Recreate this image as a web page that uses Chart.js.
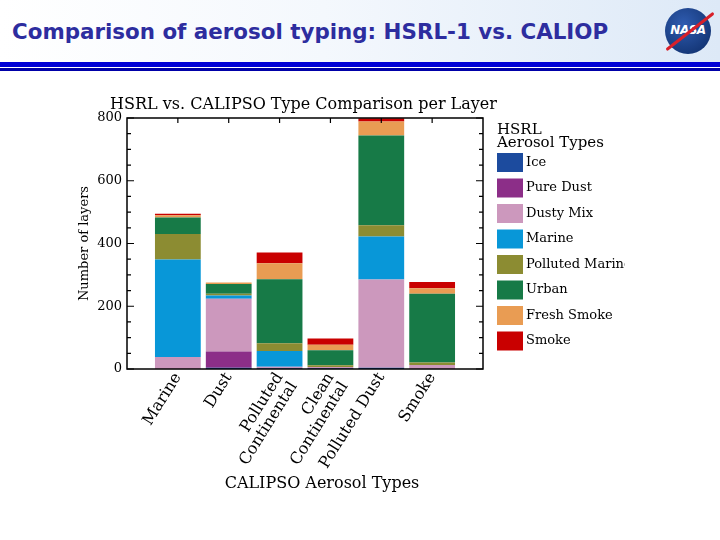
<!DOCTYPE html>
<html>
<head>
<meta charset="utf-8">
<script src="https://cdn.jsdelivr.net/npm/chart.js@4.4.1/dist/chart.umd.min.js"></script>
<style>
  html, body { margin: 0; padding: 0; background: #fff; }
  body { width: 720px; height: 540px; position: relative; overflow: hidden; }
  #header { position: absolute; left: 0; top: 0; width: 720px; height: 62px;
    background: linear-gradient(to right, #ffffff 0%, #f4f8fd 45%, #dde9f7 100%); }
  #header h1 { margin: 0; position: absolute; left: 12px; top: 19px; white-space: nowrap;
    font: bold 21.4px "DejaVu Sans", sans-serif; color: #2d2d9f; }
  #line1 { position: absolute; left: 0; top: 62px; width: 720px; height: 5px; background: #0000d6; }
  #line2 { position: absolute; left: 0; top: 68px; width: 720px; height: 3px; background: #0000a8; }
  #logo { position: absolute; left: 665px; top: 8px; width: 46px; height: 46px; border-radius: 50%;
    background: radial-gradient(circle at 40% 35%, #2f5cb0, #153778 75%); overflow: hidden; }
  #logo span { position: absolute; left: 0; top: 15px; width: 46px; text-align: center;
    font: bold italic 12px "DejaVu Sans", sans-serif; color: #fff; letter-spacing: -0.5px; }
  #swoosh { position: absolute; left: 660px; top: 30px; width: 60px; height: 3px; background: #d8202a;
    transform: rotate(-38deg); border-radius: 2px; }
  #wrap { position: absolute; left: 0; top: 75px; width: 720px; height: 465px; }
</style>
</head>
<body>
<div id="header"><h1>Comparison of aerosol typing: HSRL-1 vs. CALIOP</h1></div>
<div id="line1"></div>
<div id="line2"></div>
<div id="logo"><span>NASA</span></div>
<div id="swoosh"></div>
<div id="wrap"><canvas id="chart" width="720" height="465"></canvas></div>
<script>
const categories = ["Marine", "Dust", ["Polluted", "Continental"], ["Clean", "Continental"], "Polluted Dust", "Smoke"];

const typeNames = ["Ice", "Pure Dust", "Dusty Mix", "Marine", "Polluted Marine", "Urban", "Fresh Smoke", "Smoke"];
const typeColors = ["#1c4b9e", "#8c2e88", "#cc98bd", "#0897d8", "#8c8c32", "#177a47", "#e99c53", "#c90000"];

// layers per CALIPSO type, one array per HSRL type
const ice = [0, 4, 2, 2, 4, 0];
const pureDust = [0, 52, 0, 0, 0, 0];
const dustyMix = [38, 168, 5, 4, 281, 13];
const marine = [311, 10, 50, 0, 137, 0];
const pollutedMarine = [81, 6, 25, 6, 36, 8];
const urban = [53, 31, 204, 48, 286, 219];
const freshSmoke = [7, 5, 51, 17, 45, 17];
const smoke = [5, 0, 34, 20, 10, 20];

const yTicks = [0, 200, 400, 600, 800];

const series = [ice, pureDust, dustyMix, marine, pollutedMarine, urban, freshSmoke, smoke];
const serif = "'DejaVu Serif', serif";

// empty slot on each side so the bars sit one step in from the frame
const labels = ["", ...categories, ""];

const frameAndLegend = {
  id: "frameAndLegend",
  afterDraw(chart) {
    const { ctx, chartArea: a, scales } = chart;
    const x = scales.x, y = scales.y;
    ctx.save();
    ctx.strokeStyle = "#000";
    ctx.lineWidth = 1.5;
    ctx.strokeRect(a.left, a.top, a.right - a.left, a.bottom - a.top);

    ctx.lineWidth = 1.2;
    ctx.beginPath();
    for (let v = yTicks[0]; v <= yTicks[yTicks.length - 1]; v += 50) {
      const py = y.getPixelForValue(v);
      const len = yTicks.includes(v) ? 7 : 4;
      ctx.moveTo(a.left, py); ctx.lineTo(a.left + len, py);
      ctx.moveTo(a.right, py); ctx.lineTo(a.right - len, py);
    }
    categories.forEach((c, i) => {
      const px = x.getPixelForValue(i + 1);
      ctx.moveTo(px, a.top); ctx.lineTo(px, a.top + 5);
    });
    ctx.stroke();

    ctx.fillStyle = "#000";
    ctx.textAlign = "center";
    ctx.textBaseline = "alphabetic";
    // plot title (drawn here so it can run wider than the frame)
    ctx.font = "16px " + serif;
    ctx.fillText("HSRL vs. CALIPSO Type Comparison per Layer", (a.left + a.right) / 2 - 1.5, 34);
    // x axis title, a bit right of centre as in the original
    ctx.fillText("CALIPSO Aerosol Types", (a.left + a.right) / 2 + 17, 413);

    // legend
    ctx.beginPath();
    ctx.rect(0, 0, 625, chart.height);
    ctx.clip();
    ctx.textAlign = "left";
    ctx.font = "15px " + serif;
    ctx.fillText("HSRL", 497, 59);
    ctx.fillText("Aerosol Types", 497, 72);
    ctx.font = "13px " + serif;
    ctx.textBaseline = "middle";
    chart.data.datasets.forEach((ds, i) => {
      const top = 78 + i * 25.5;
      ctx.fillStyle = ds.backgroundColor;
      ctx.fillRect(497, top, 26, 19);
      ctx.fillStyle = "#000";
      ctx.fillText(ds.label, 526, top + 9.5);
    });
    ctx.restore();
  }
};

new Chart(document.getElementById("chart"), {
  type: "bar",
  data: {
    labels: labels,
    datasets: series.map((vals, i) => ({
      label: typeNames[i],
      data: [null, ...vals, null],
      backgroundColor: typeColors[i],
      borderWidth: 0,
      barPercentage: 0.9,
      categoryPercentage: 1,
    })),
  },
  options: {
    responsive: false,
    animation: false,
    layout: { padding: { left: 70, right: 237, top: 43, bottom: 0 } },
    scales: {
      x: {
        stacked: true,
        offset: false,
        grid: { display: false, tickLength: 0 },
        border: { display: false },
        ticks: {
          autoSkip: false,
          minRotation: 58,
          maxRotation: 58,
          padding: 1,
          color: "#000",
          font: { family: serif, size: 16, lineHeight: 1.05 },
        },
        afterFit: (s) => { s.height = 171; },
      },
      y: {
        stacked: true,
        min: 0,
        max: 800,
        grid: { display: false, tickLength: 0 },
        border: { display: false },
        ticks: {
          stepSize: 200,
          padding: 5,
          color: "#000",
          font: { family: serif, size: 13 },
        },
        title: {
          display: true,
          text: "Number of layers",
          color: "#000",
          font: { family: serif, size: 13 },
          padding: { top: 7, bottom: 0 },
        },
        afterFit: (s) => { s.width = 57; },
      },
    },
    plugins: {
      legend: { display: false },
      tooltip: { enabled: false },
    },
  },
  plugins: [frameAndLegend],
});
</script>
</body>
</html>
